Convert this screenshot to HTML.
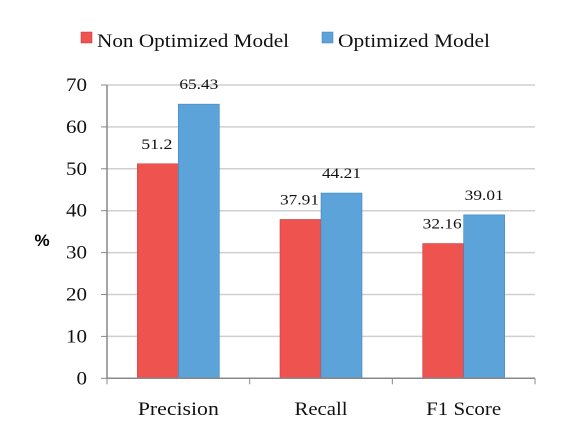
<!DOCTYPE html>
<html><head><meta charset="utf-8"><style>
body{margin:0;background:#fff}
svg{display:block;font-family:"Liberation Serif",serif}
</style></head><body>
<svg id="c" width="563" height="432">
<g id="legend">
<rect x="81" y="32" width="11" height="11" fill="#ef5350" stroke="#c03030" stroke-width="0.5"/>
<text x="97" y="47" font-size="19" fill="#111" textLength="192" lengthAdjust="spacingAndGlyphs">Non Optimized Model</text>
<rect x="322" y="32" width="11" height="11" fill="#5ba3d9" stroke="#3a7fb5" stroke-width="0.5"/>
<text x="338" y="47" font-size="19" fill="#111" textLength="152" lengthAdjust="spacingAndGlyphs">Optimized Model</text>
</g>
<text x="42" y="246" font-size="17" font-weight="bold" font-family="Liberation Sans, sans-serif" text-anchor="middle">%</text>
<g id="grid"></g><g id="bars"></g><g id="axes"></g>
</svg>
<script>
const categories=["Precision","Recall","F1 Score"];
const nonOptimized=[51.2,37.91,32.16];
const optimized=[65.43,44.21,39.01];
const nonLabels=["51.2","37.91","32.16"];
const optLabels=["65.43","44.21","39.01"];
const yTicks=[0,10,20,30,40,50,60,70];
const NS="http://www.w3.org/2000/svg";
const x0=107,x1=535,y0=378.3,yTop=85,yMax=70;
const y=v=>y0-(y0-yTop)*v/yMax;
const cw=(x1-x0)/categories.length;
function mk(tag,attrs,parent,text){const e=document.createElementNS(NS,tag);for(const k in attrs)e.setAttribute(k,attrs[k]);if(text!==undefined)e.textContent=text;parent.appendChild(e);return e;}
const grid=document.getElementById('grid'),bars=document.getElementById('bars'),axes=document.getElementById('axes');
yTicks.forEach(t=>{
 if(t>0){const l=mk('line',{x1:x0,x2:x1,y1:y(t),y2:y(t),stroke:'#cfcfcf','stroke-width':1.5},grid);
 
 }
 const tk=mk('line',{x1:x0-6,x2:x0,y1:y(t),y2:y(t),stroke:'#888'},axes);
 
 
 const s=String(t);
 const tx=mk('text',{x:87,y:y(t)+6,'font-size':19,'text-anchor':'end',fill:'#111',textLength:s.length*10.5,lengthAdjust:'spacingAndGlyphs'},axes,s);
 
 
});
const ya=mk('line',{x1:x0,x2:x0,y1:yTop,y2:y0,stroke:'#888','stroke-width':1.5},axes);


const xa=mk('line',{x1:x0,x2:x1,y1:y0,y2:y0,stroke:'#888','stroke-width':1.5},axes);


const bw=41;
for(let i=0;i<=categories.length;i++){const t=mk('line',{x1:x0+i*cw,x2:x0+i*cw,y1:y0,y2:y0+6,stroke:'#888'},axes);
 
 }
const catW=[81,53,75];
categories.forEach((c,i)=>{
 const cx=x0+i*cw+cw/2;
 const r=mk('rect',{x:cx-bw,y:y(nonOptimized[i]),width:bw,height:y0-y(nonOptimized[i]),fill:'#ef5350',stroke:'#c84444','stroke-width':0.6},bars);
 
 
 const b=mk('rect',{x:cx,y:y(optimized[i]),width:bw,height:y0-y(optimized[i]),fill:'#5ba3d9',stroke:'#3f86bf','stroke-width':0.6},bars);
 
 
 const l1=mk('text',{x:cx-bw/2-1,y:y(nonOptimized[i])-15,'font-size':15,'text-anchor':'middle',fill:'#111',textLength:nonLabels[i].length*7.8,lengthAdjust:'spacingAndGlyphs'},bars,nonLabels[i]);
 
 
 const l2=mk('text',{x:cx+bw/2,y:y(optimized[i])-15,'font-size':15,'text-anchor':'middle',fill:'#111',textLength:optLabels[i].length*7.8,lengthAdjust:'spacingAndGlyphs'},bars,optLabels[i]);
 
 
 const cl=mk('text',{x:cx,y:415,'font-size':19,'text-anchor':'middle',fill:'#111',textLength:catW[i],lengthAdjust:'spacingAndGlyphs'},axes,c);
 
 
});
</script>
</body></html>
